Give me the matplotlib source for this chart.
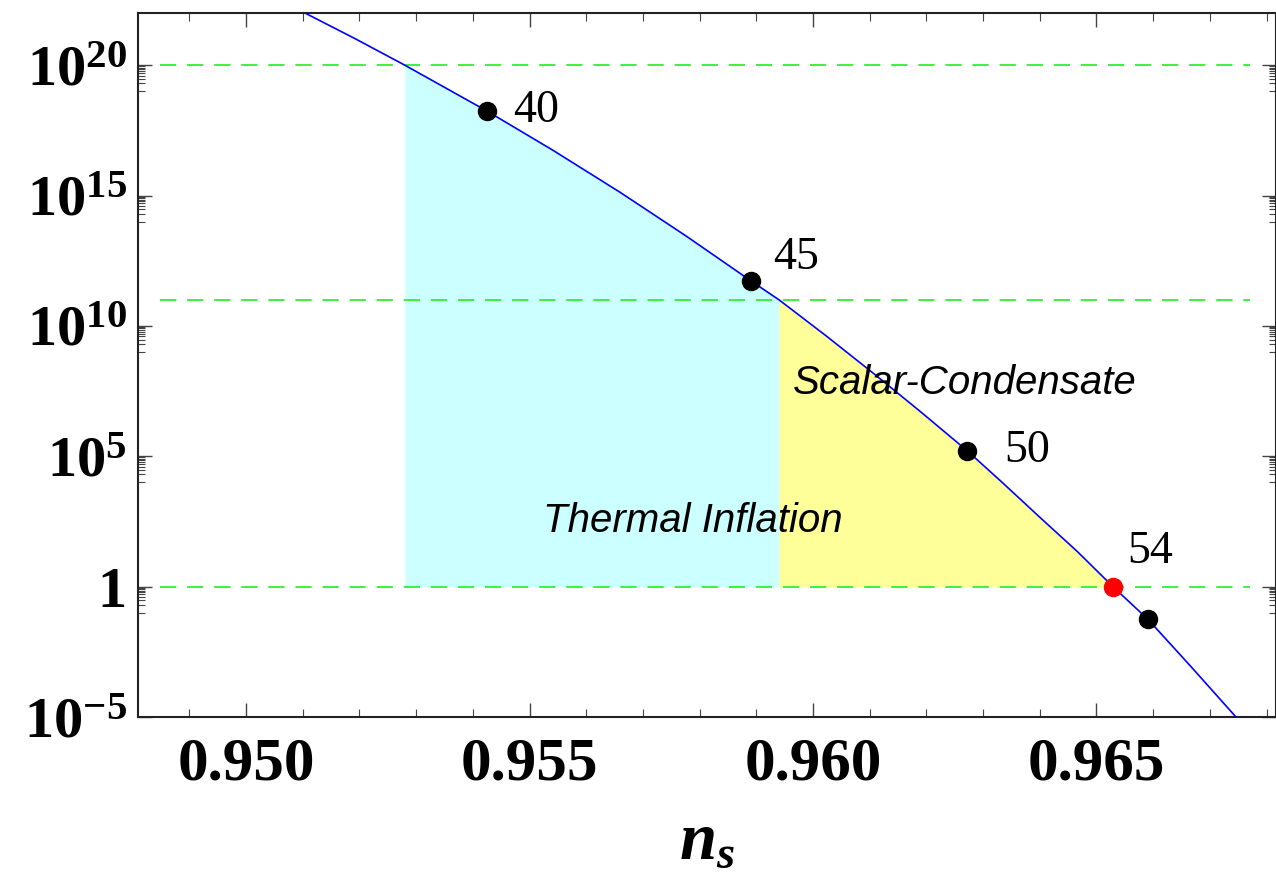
import numpy as np
import matplotlib
matplotlib.use('Agg')
import matplotlib.pyplot as plt
from matplotlib.ticker import FixedLocator, FuncFormatter, NullFormatter

# curva: n_s e log10 do eixo y
curva_ns = [0.95104, 0.95192, 0.95280, 0.95425, 0.95541, 0.95660, 0.95776, 0.95891,
            0.95940, 0.96023, 0.96106, 0.96189, 0.96272, 0.96335, 0.96400, 0.96466,
            0.96529, 0.96591, 0.96668, 0.96746]
curva_log = [22.0, 21.02, 20.0, 18.24, 16.74, 15.12, 13.45, 11.72,
             11.0, 9.62, 8.19, 6.72, 5.21, 3.97, 2.66, 1.35,
             0.0, -1.26, -3.10, -5.0]

# pontos marcados (numero de e-folds)
pontos_ns = [0.95425, 0.95891, 0.96272, 0.96591]
pontos_log = [18.24, 11.72, 5.21, -1.26]
pontos_rotulo = ['40', '45', '50', '']
ponto_vermelho_ns = 0.96529
ponto_vermelho_log = 0.0
ponto_vermelho_rotulo = '54'

# linhas horizontais tracejadas
niveis = [1e20, 1e11, 1.0]

# regioes sombreadas
termica_ns = (0.95280, 0.95940)
condensado_ns = (0.95940, 0.96529)

plt.rcParams['mathtext.fontset'] = 'custom'
plt.rcParams['mathtext.rm'] = 'Liberation Serif:bold'
plt.rcParams['mathtext.bf'] = 'Liberation Serif:bold'
plt.rcParams['mathtext.it'] = 'Liberation Serif:bold:italic'
plt.rcParams['font.family'] = 'Liberation Serif'
plt.rcParams['font.weight'] = 'bold'

fig = plt.figure(figsize=(12.76, 8.81), dpi=100)
ax = fig.add_axes([138 / 1276, 1 - 717 / 881, 1138 / 1276, 704 / 881])

x = np.array(curva_ns)
y = 10.0 ** np.array(curva_log)

m1 = (x >= termica_ns[0]) & (x <= termica_ns[1])
ax.fill_between(x[m1], 1.0, y[m1], color='#ccffff', lw=0, zorder=1)
m2 = (x >= condensado_ns[0]) & (x <= condensado_ns[1])
ax.fill_between(x[m2], 1.0, y[m2], color='#ffff99', lw=0, zorder=1)

for nv in niveis:
    ax.axhline(nv, xmin=0.019, xmax=0.977, color='#33ee33', lw=1.3,
               dashes=(9, 6), zorder=2)

ax.plot(x, y, color='blue', lw=1.2, zorder=3)

ax.plot(pontos_ns, 10.0 ** np.array(pontos_log), 'o', color='black', ms=13, zorder=4)
ax.plot([ponto_vermelho_ns], [10.0 ** ponto_vermelho_log], 'o', color='red', ms=13, zorder=4)

offsets = [(19, 0, 'left'), (32, 17, 'center'), (27, 0, 'left')]
for ns, lg, rot, (dx, dy, ha) in zip(pontos_ns, pontos_log, pontos_rotulo, offsets):
    ax.annotate(rot, (ns, 10.0 ** lg), xytext=(dx, dy), textcoords='offset points',
                ha=ha, va='center', fontsize=33, fontweight='normal',
                family='Liberation Serif')
ax.annotate(ponto_vermelho_rotulo, (ponto_vermelho_ns, 10.0 ** ponto_vermelho_log),
            xytext=(27, 25), textcoords='offset points', ha='center', va='center',
            fontsize=33, fontweight='normal', family='Liberation Serif')

ax.text(0.95965, 10 ** 7.8, 'Scalar-Condensate', fontsize=29, style='italic',
        fontweight='normal', family='Liberation Sans', va='center', ha='left')
ax.text(0.95524, 10 ** 2.53, 'Thermal Inflation', fontsize=29, style='italic',
        fontweight='normal', family='Liberation Sans', va='center', ha='left')

ax.set_yscale('log')
ax.set_xlim(0.948095, 0.968166)
ax.set_ylim(1e-5, 1e22)

ax.xaxis.set_major_locator(FixedLocator([0.950, 0.955, 0.960, 0.965]))
ax.xaxis.set_minor_locator(FixedLocator(np.arange(0.948, 0.9685, 0.001)))
ax.xaxis.set_major_formatter(FuncFormatter(lambda v, p: f'{v:.3f}'))

maiores = [1e-5, 1.0, 1e5, 1e10, 1e15, 1e20]
menores = []
for mj in maiores:
    for k in range(1, 10):
        menores.append(k * mj / 10)
ax.yaxis.set_major_locator(FixedLocator(maiores))
ax.yaxis.set_minor_locator(FixedLocator(menores))
ax.yaxis.set_minor_formatter(NullFormatter())


def fmt_y(v, p):
    e = int(round(np.log10(v)))
    if e == 0:
        return '1'
    return r'$\mathbf{10^{%d}}$' % e


ax.yaxis.set_major_formatter(FuncFormatter(fmt_y))

ax.tick_params(which='both', direction='in', top=True, right=True, colors='#444444',
               labelcolor='black')
ax.tick_params(which='major', length=10, width=1.0)
ax.tick_params(which='minor', length=6, width=0.8)
ax.tick_params(axis='x', which='major', labelsize=44, pad=14)
ax.tick_params(axis='y', which='major', labelsize=42, pad=8)
ax.tick_params(axis='y', which='minor', length=5)

for s in ax.spines.values():
    s.set_color('#222222')
    s.set_linewidth(1.5)

ax.set_xlabel(r'$n_s$', fontsize=48, labelpad=14)

fig.savefig('out.png', dpi=100)
